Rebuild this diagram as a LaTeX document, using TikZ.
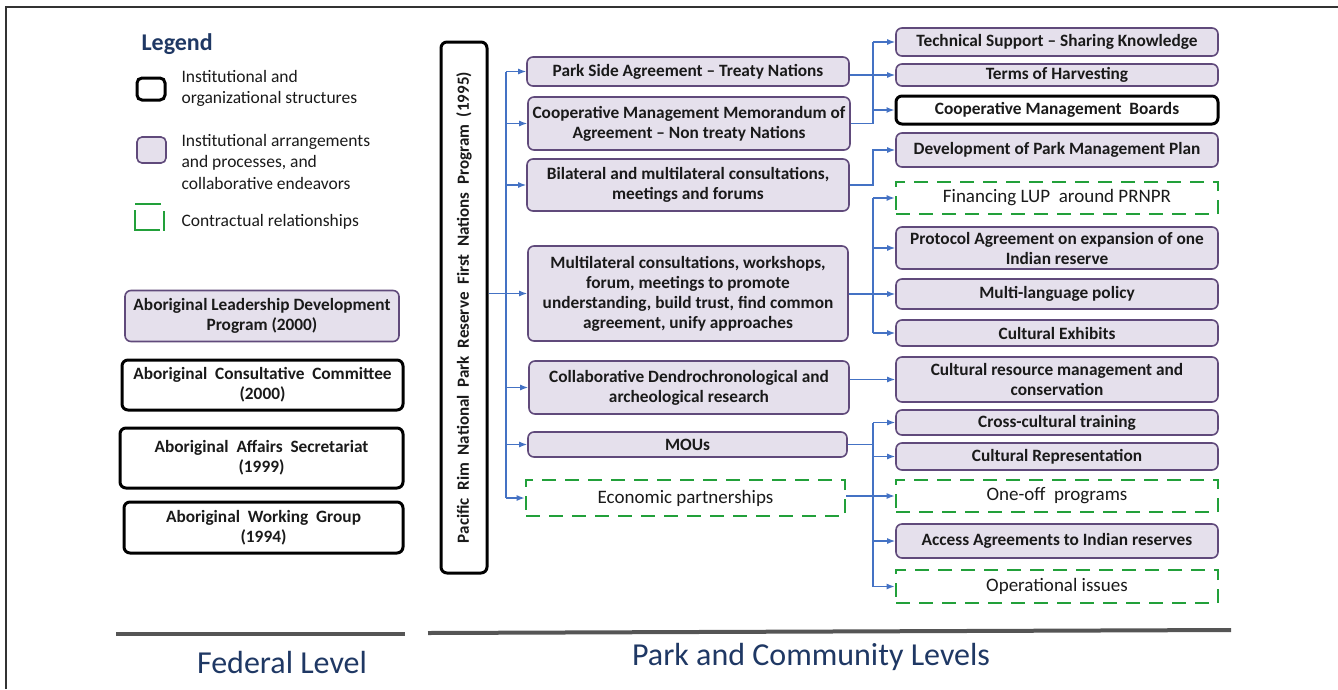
\documentclass[tikz,border=0pt]{standalone}
\usepackage{fontspec}
\setmainfont{Carlito}
\usetikzlibrary{arrows.meta}
\definecolor{linkblue}{HTML}{4472C4}
\definecolor{boxfill}{HTML}{E5E0EC}
\definecolor{boxline}{HTML}{604A7B}
\definecolor{dashgreen}{HTML}{22A03A}
\definecolor{navy}{HTML}{1F3864}
\definecolor{textgrey}{HTML}{1A1A1A}
\definecolor{bargrey}{HTML}{555555}
\def\boxfont{\fontsize{17.3}{20}\selectfont\bfseries}
\def\dashfont{\fontsize{19}{22}\selectfont}
\def\legfont{\fontsize{17.5}{21.5}\selectfont}
\tikzset{
	inst/.style={draw=black, line width=3pt, rounded corners=6pt, fill=white, align=center, font=\boxfont, text=textgrey, inner sep=1pt},
	arrg/.style={draw=boxline, line width=1.6pt, rounded corners=6pt, fill=boxfill, align=center, font=\boxfont, text=textgrey, inner sep=1pt},
	contr/.style={draw=dashgreen, line width=2.6pt, dash pattern=on 14pt off 9pt, align=center, font=\dashfont, text=textgrey, inner sep=1pt},
	link/.style={draw=linkblue, line width=1.4pt, -{Latex[length=8pt,width=6pt]}},
	wire/.style={draw=linkblue, line width=1.4pt},
}

\begin{document}
\begin{tikzpicture}[x=1pt, y=-1pt]
		%%%%% START %%%%%
		\useasboundingbox (0,0) rectangle (1338,689);
		\draw[black!80, line width=1.5pt] (6,689) -- (6,7) -- (1338,7);
		
		% legend
		\node[anchor=west, font=\fontsize{24}{28}\selectfont\bfseries, text=navy] (legend) at (138,44) {Legend};
		\draw[black, line width=3pt, rounded corners=5pt] (137,78) rectangle (165,100);
		\node[anchor=west, align=left, font=\legfont, text=textgrey] (leginst) at (178,88.5) {Institutional and\\organizational structures};
		\draw[boxline, fill=boxfill, line width=1.6pt, rounded corners=5pt] (137,137) rectangle (166,163);
		\node[anchor=west, align=left, font=\legfont, text=textgrey] (legarrg) at (178,161.5) {Institutional arrangements\\and processes, and\\collaborative endeavors};
		\draw[dashgreen, line width=2.6pt] (135,204) -- (161,204);
		\draw[dashgreen, line width=2.6pt] (135,210) -- (135,230) -- (160,230);
		\draw[dashgreen, line width=2.6pt] (164,211) -- (164,231);
		\node[anchor=west, font=\legfont, text=textgrey] (legcontr) at (178,222) {Contractual relationships};
		
		% federal level
		\node[arrg, minimum width=274pt, minimum height=51pt] (aldp) at (262,316) {Aboriginal Leadership Development\\Program (2000)};
		\node[inst, minimum width=281pt, minimum height=50pt] (acc) at (262.5,385) {Aboriginal~~Consultative~~Committee\\(2000)};
		\node[inst, minimum width=283pt, minimum height=60pt] (aas) at (261.5,458) {Aboriginal~~Affairs~~Secretariat\\(1999)};
		\node[inst, minimum width=279pt, minimum height=51pt] (awg) at (263.5,527.5) {Aboriginal~~Working~~Group\\(1994)};
		
		% program
		\node[inst, minimum width=46pt, minimum height=531pt] (prog) at (464,307.5) {};
		\node[rotate=90, font=\fontsize{17}{19}\selectfont\bfseries, text=textgrey] (progname) at (prog.center) {Pacific~~Rim~~National~~Park~~Reserve~~First~~Nations~~Program~~(1995)};
		
		% middle column
		\node[arrg, minimum width=322pt, minimum height=29pt] (m1) at (688,71.5) {Park Side Agreement -- Treaty Nations};
		\node[arrg, minimum width=322pt, minimum height=53pt] (m2) at (689,123.5) {Cooperative Management Memorandum of\\Agreement -- Non treaty Nations};
		\node[arrg, minimum width=322pt, minimum height=52pt] (m3) at (688,185) {Bilateral and multilateral consultations,\\meetings and forums};
		\node[arrg, minimum width=320pt, minimum height=95pt] (m4) at (688,293.5) {Multilateral consultations, workshops,\\forum, meetings to promote\\understanding, build trust, find common\\agreement, unify approaches};
		\node[arrg, minimum width=320pt, minimum height=53pt] (m5) at (689,387.5) {Collaborative Dendrochronological and\\archeological research};
		\node[arrg, minimum width=319pt, minimum height=25pt] (m6) at (687.5,444.5) {MOUs};
		\node[contr, minimum width=319pt, minimum height=36pt] (m7) at (685.5,498) {Economic partnerships};
		
		% right column
		\node[arrg, minimum width=322pt, minimum height=28pt] (r1) at (1057,42) {Technical Support -- Sharing Knowledge};
		\node[arrg, minimum width=322pt, minimum height=22pt] (r2) at (1057,75) {Terms of Harvesting};
		\node[inst, minimum width=322pt, minimum height=28pt] (r3) at (1057,110) {Cooperative Management~~Boards};
		\node[arrg, minimum width=322pt, minimum height=34pt] (r4) at (1057,150) {Development of Park Management Plan};
		\node[contr, minimum width=322pt, minimum height=32pt] (r5) at (1057,198) {Financing LUP~~around PRNPR};
		\node[arrg, minimum width=322pt, minimum height=42pt] (r6) at (1057,248) {Protocol Agreement on expansion of one\\Indian reserve};
		\node[arrg, minimum width=322pt, minimum height=30pt] (r7) at (1057,294) {Multi-language policy};
		\node[arrg, minimum width=322pt, minimum height=26pt] (r8) at (1057,333) {Cultural Exhibits};
		\node[arrg, minimum width=322pt, minimum height=45pt] (r9) at (1057,379.5) {Cultural resource management and\\conservation};
		\node[arrg, minimum width=322pt, minimum height=25pt] (r10) at (1057,422.5) {Cross-cultural training};
		\node[arrg, minimum width=322pt, minimum height=27pt] (r11) at (1057,456.5) {Cultural Representation};
		\node[contr, minimum width=322pt, minimum height=32pt] (r12) at (1057,496) {One-off~~programs};
		\node[arrg, minimum width=322pt, minimum height=34pt] (r13) at (1057,541) {Access Agreements to Indian reserves};
		\node[contr, minimum width=322pt, minimum height=33pt] (r14) at (1057,586.5) {Operational issues};
		
		% trunk to middle column
		\coordinate (tk) at (506,0);
		\draw[wire] (prog.east |- m4.west) -- (tk |- m4.west);
		\draw[wire] (tk |- m1.west) -- (tk |- m7.west);
		\foreach \m in {m1,m2,m3,m4,m5,m6,m7}
			\draw[link] (tk |- \m.west) -- (\m.west);
		
		% middle to right column
		\coordinate (jx) at (873,0);
		\draw[wire] (m2.east) -- (jx |- m2.east) -- (jx |- r1.west);
		\draw[link] (jx |- r1.west) -- (r1.west);
		\draw[link] (jx |- r3.west) -- (r3.west);
		\draw[link] (m1.east |- r2.west) -- (r2.west);
		\draw[link] (m3.east) -- (jx |- m3.east) |- (r4.west);
		\draw[wire] (jx |- r5.west) -- (jx |- r8.west);
		\draw[link] (m4.east |- r7.west) -- (r7.west);
		\foreach \r in {r5,r6,r8}
			\draw[link] (jx |- \r.west) -- (\r.west);
		\draw[link] (m5.east |- r9.west) -- (r9.west);
		\draw[wire] (m6.east) -- (jx |- m6.east);
		\draw[wire] (jx |- r10.west) -- (jx |- r14.west);
		\draw[link] (m7.east |- r12.west) -- (r12.west);
		\foreach \r in {r10,r11,r13,r14}
			\draw[link] (jx |- \r.west) -- (\r.west);
		
		% levels
		\draw[bargrey, line width=4pt] (116,634) -- (405,634);
		\draw[bargrey, line width=4pt] (428,633) -- (1231,630);
		\node[font=\fontsize{32}{36}\selectfont, text=navy] (fedlevel) at (282,662) {Federal Level};
		\node[font=\fontsize{32}{36}\selectfont, text=navy] (parklevel) at (811,657) {Park and Community Levels};
		%%%%% END %%%%%
\end{tikzpicture}
\end{document}
